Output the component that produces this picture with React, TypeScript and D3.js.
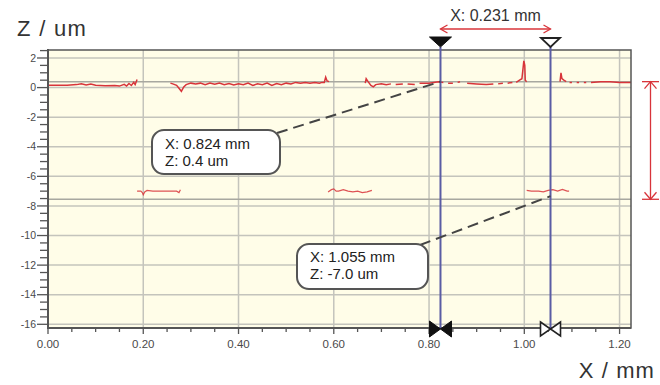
import React from 'react';
import * as d3 from 'd3';

type P = [number, number | null];

const xTicks = [0, 0.2, 0.4, 0.6, 0.8, 1.0, 1.2];
const xTickLabels = ['0.00', '0.20', '0.40', '0.60', '0.80', '1.00', '1.20'];
const yTicks = [2, 0, -2, -4, -6, -8, -10, -12, -14, -16];
const yTickLabels = ['2', '0', '-2', '-4', '-6', '-8', '-10', '-12', '-14', '-16'];

const upperSegA: P[] = [[0.0, 0.15], [0.02, 0.15], [0.04, 0.16], [0.06, 0.2], [0.07, 0.26], [0.08, 0.18], [0.09, 0.24], [0.1, 0.16], [0.12, 0.13], [0.14, 0.14], [0.15, 0.1], [0.16, 0.22], [0.165, 0.1], [0.17, 0.28], [0.175, 0.14], [0.18, 0.36], [0.183, 0.2], [0.187, 0.55]];
const upperSegB: P[] = [[0.257, 0.3], [0.262, 0.25], [0.27, 0.15], [0.275, -0.05], [0.28, -0.25], [0.285, 0.05], [0.29, 0.2], [0.3, 0.3], [0.31, 0.25], [0.32, 0.3], [0.33, 0.2], [0.34, 0.3], [0.35, 0.22], [0.36, 0.3], [0.37, 0.2], [0.38, 0.28], [0.39, 0.18], [0.4, 0.25], [0.41, 0.2], [0.42, 0.3], [0.43, 0.15], [0.44, 0.25], [0.45, 0.2], [0.46, 0.3], [0.47, 0.15], [0.48, 0.28], [0.49, 0.2], [0.5, 0.3], [0.51, 0.25], [0.52, 0.35], [0.53, 0.3], [0.54, 0.35], [0.55, 0.3], [0.56, 0.35], [0.57, 0.3], [0.575, 0.35], [0.58, 0.35], [0.583, 0.7], [0.586, 0.45], [0.59, 0.4]];
const upperSegC: P[] = [[0.666, 0.3], [0.668, 0.6], [0.672, 0.4], [0.678, 0.15], [0.683, 0.05], [0.688, 0.2], [0.7, 0.25], [0.71, 0.2], [0.72, 0.25], [0.725, null], [0.73, 0.2], [0.745, 0.25], [0.75, null], [0.755, 0.25], [0.77, 0.2], [0.775, null], [0.78, 0.3], [0.8, 0.3], [0.81, 0.35], [0.82, 0.4], [0.83, 0.35], [0.835, null], [0.84, 0.3], [0.85, 0.3], [0.855, null], [0.86, 0.35], [0.865, 0.4], [0.87, null], [0.88, 0.3], [0.9, 0.25], [0.92, 0.2], [0.935, 0.25], [0.94, null], [0.945, 0.25], [0.955, 0.3], [0.96, null], [0.965, 0.3], [0.975, 0.35], [0.98, null], [0.983, 0.35], [0.99, 0.5], [0.995, 0.6], [0.997, 1.2], [0.999, 1.8], [1.001, 1.5], [1.002, 0.5], [1.005, 0.4]];
const upperSegD: P[] = [[1.075, 0.4], [1.077, 1.0], [1.079, 0.6], [1.083, 0.5], [1.088, 0.4], [1.09, null], [1.095, 0.35], [1.1, 0.35], [1.105, null], [1.11, 0.35], [1.115, 0.35], [1.12, null], [1.125, 0.35], [1.13, 0.35], [1.135, null], [1.14, 0.35], [1.16, 0.4], [1.18, 0.4], [1.2, 0.35], [1.224, 0.35]];
const lowerSegE: P[] = [[0.187, -7.0], [0.195, -7.0], [0.198, -7.1], [0.2, -7.25], [0.203, -7.05], [0.208, -6.95], [0.22, -7.0], [0.24, -7.0], [0.26, -7.0], [0.27, -7.0], [0.275, -7.1], [0.278, -6.9]];
const lowerSegF: P[] = [[0.588, -7.05], [0.595, -6.9], [0.6, -6.85], [0.605, -7.0], [0.61, -7.0], [0.62, -6.9], [0.63, -7.0], [0.64, -7.05], [0.65, -7.0], [0.66, -7.1], [0.67, -7.05], [0.68, -6.95]];
const lowerSegG: P[] = [[1.005, -6.95], [1.015, -7.0], [1.03, -7.0], [1.04, -7.05], [1.05, -6.95], [1.06, -6.9], [1.07, -7.0], [1.08, -6.88], [1.09, -7.0], [1.094, -7.0]];
const segments = [upperSegA, upperSegB, upperSegC, upperSegD, lowerSegE, lowerSegF, lowerSegG];

const cursorX = [0.824, 1.055];
const cursorZ = [0.4, -7.0];
const levelLines = [0.4, -7.55];
const deltaLabel = 'X: 0.231 mm';
const callout1 = ['X: 0.824 mm', 'Z: 0.4 um'];
const callout2 = ['X: 1.055 mm', 'Z: -7.0 um'];

const W = 660, H = 385;
const L = 48, R = 631, T = 50, B = 328;
const x = d3.scaleLinear().domain([0, 1.224]).range([L, R]);
const y = d3.scaleLinear().domain([-16.25, 2.54]).range([B, T]);

const FONT = 'Arial, "Liberation Sans", sans-serif';
const RED = '#d8343a';
const GRID = '#c4c4bc';
const AXIS = '#555';
const BLUE = '#5a5ca4';

export default function App() {
  const line = d3.line<P>()
    .defined(d => d[1] !== null)
    .x(d => x(d[0]))
    .y(d => y(d[1] as number));

  const yMinor = d3.range(-16, 2.6, 0.5);
  const xMinor = d3.range(0, 1.21, 0.05);

  const cx1 = x(cursorX[0]);
  const cx2 = x(cursorX[1]);
  const lvlTop = y(levelLines[0]);
  const lvlBot = y(levelLines[1]);

  const chevron = (px: number, py: number, dx: number, dy: number, s = 7, w = 4) => {
    const bx = px - dx * s, by = py - dy * s;
    const nx = -dy * w, ny = dx * w;
    return `M${bx + nx},${by + ny}L${px},${py}L${bx - nx},${by - ny}`;
  };

  return (
    <svg width={W} height={H} style={{ position: 'absolute', left: 0, top: 0, background: '#fff' }}>
      <rect x={L} y={T} width={R - L} height={B - T} fill="#fffde8" />
      {xTicks.map(t => (
        <line key={'gx' + t} x1={x(t)} x2={x(t)} y1={T} y2={B} stroke={GRID} strokeWidth={1.5} />
      ))}
      {yTicks.map(t => (
        <line key={'gy' + t} x1={L} x2={R} y1={y(t)} y2={y(t)} stroke={GRID} strokeWidth={1.5} />
      ))}
      {levelLines.map(v => (
        <line key={'lv' + v} x1={L} x2={R} y1={y(v)} y2={y(v)} stroke="#a8a8a0" strokeWidth={1.5} />
      ))}
      {segments.map((s, i) => (
        <path key={'s' + i} d={line(s) || ''} fill="none" stroke={RED} strokeWidth={i < 4 ? 1.5 : 1.2} strokeOpacity={i < 4 ? 1 : 0.85} />
      ))}
      <rect x={L} y={T} width={R - L} height={B - T} fill="none" stroke={AXIS} strokeWidth={1.5} />
      <line x1={L} x2={L} y1={T - 1} y2={B + 1} stroke={AXIS} strokeWidth={2} />
      <line x1={L} x2={R} y1={B} y2={B} stroke={AXIS} strokeWidth={2} />
      {yMinor.map(t => {
        const major = Math.abs(t % 2) < 1e-6;
        return <line key={'yt' + t} x1={L - (major ? 11 : 8)} x2={L} y1={y(t)} y2={y(t)} stroke={AXIS} strokeWidth={1.3} />;
      })}
      {yTicks.map((t, i) => (
        <text key={'yl' + t} x={L - 12} y={y(t) + 3.6} textAnchor="end" fontFamily={FONT} fontSize={10.5} fill="#4a4a4a">{yTickLabels[i]}</text>
      ))}
      {xMinor.map(t => {
        const major = Math.abs((t / 0.2) - Math.round(t / 0.2)) < 1e-6;
        return <line key={'xt' + t} x1={x(t)} x2={x(t)} y1={B} y2={B + (major ? 6 : 4)} stroke={AXIS} strokeWidth={1.3} />;
      })}
      {xTicks.map((t, i) => (
        <text key={'xl' + t} x={x(t)} y={348} textAnchor="middle" fontFamily={FONT} fontSize={11.5} fill="#4a4a4a">{xTickLabels[i]}</text>
      ))}
      {cursorX.map(c => (
        <line key={'c' + c} x1={x(c)} x2={x(c)} y1={T - 3} y2={B} stroke={BLUE} strokeWidth={2} />
      ))}
      <path d={`M${cx1 - 11},37L${cx1 + 11},37L${cx1},47Z`} fill="#111" stroke="#111" strokeWidth={1} />
      <path d={`M${cx2 - 9.5},38L${cx2 + 9.5},38L${cx2},47Z`} fill="#fff" stroke="#222" strokeWidth={1.8} />
      <path d={`M${cx1 - 11},321L${cx1},329L${cx1 - 11},337Z M${cx1 + 11},321L${cx1},329L${cx1 + 11},337Z`} fill="#111" stroke="#111" strokeWidth={1} />
      <path d={`M${cx2 - 10},322L${cx2},329L${cx2 - 10},336Z M${cx2 + 10},322L${cx2},329L${cx2 + 10},336Z`} fill="#fff" stroke="#222" strokeWidth={1.6} />
      <line x1={cx1} x2={cx2} y1={29} y2={29} stroke={RED} strokeWidth={1.3} />
      <path d={chevron(cx1, 29, -1, 0)} fill="none" stroke={RED} strokeWidth={1.3} />
      <path d={chevron(cx2, 29, 1, 0)} fill="none" stroke={RED} strokeWidth={1.3} />
      <text x={(cx1 + cx2) / 2} y={21} textAnchor="middle" fontFamily={FONT} fontSize={16} fill="#333">{deltaLabel}</text>
      <line x1={650.5} x2={650.5} y1={lvlTop} y2={lvlBot} stroke={RED} strokeWidth={1.3} />
      <line x1={642} x2={659} y1={lvlTop} y2={lvlTop} stroke={RED} strokeWidth={1.3} />
      <line x1={642} x2={659} y1={lvlBot} y2={lvlBot} stroke={RED} strokeWidth={1.3} />
      <path d={chevron(650.5, lvlTop, 0, -1, 7, 6)} fill="none" stroke={RED} strokeWidth={1.3} />
      <path d={chevron(650.5, lvlBot, 0, 1, 7, 6)} fill="none" stroke={RED} strokeWidth={1.3} />
      <line x1={277} y1={133} x2={cx1} y2={y(cursorZ[0])} stroke="#444" strokeWidth={2} strokeDasharray="11 6" />
      <line x1={420} y1={245} x2={cx2} y2={y(cursorZ[1]) + 5} stroke="#444" strokeWidth={2} strokeDasharray="11 6" />
      <rect x={152} y={130} width={128} height={44} rx={12} ry={12} fill="#fff" stroke="#555" strokeWidth={2} />
      <text x={165} y={149} fontFamily={FONT} fontSize={15} fill="#222">{callout1[0]}</text>
      <text x={165} y={166} fontFamily={FONT} fontSize={15} fill="#222">{callout1[1]}</text>
      <rect x={297} y={244} width={131} height={45} rx={12} ry={12} fill="#fff" stroke="#555" strokeWidth={2} />
      <text x={310} y={262} fontFamily={FONT} fontSize={15} fill="#222">{callout2[0]}</text>
      <text x={310} y={279} fontFamily={FONT} fontSize={15} fill="#222">{callout2[1]}</text>
      <text x={17} y={36} fontFamily={FONT} fontSize={22} letterSpacing={1.3} fill="#333">Z / um</text>
      <text x={655} y={378} textAnchor="end" fontFamily={FONT} fontSize={22} letterSpacing={1.1} fill="#333">X / mm</text>
    </svg>
  );
}
